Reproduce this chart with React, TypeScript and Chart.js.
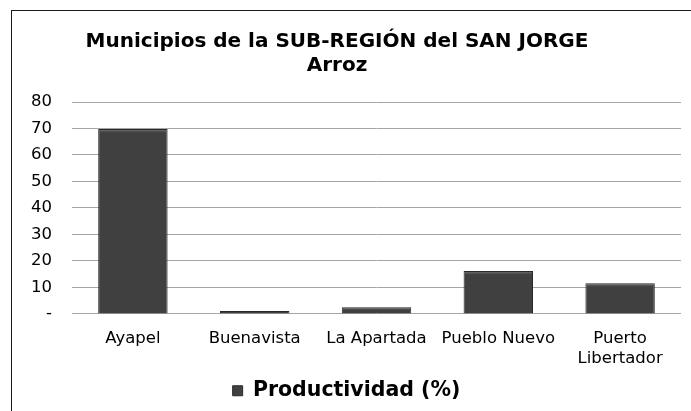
import React, { useEffect, useRef } from "react";
import { Chart, registerables } from "chart.js";

Chart.register(...registerables);

const titleLines = ["Municipios de la SUB-REGIÓN del SAN JORGE", "Arroz"];
const categories: (string | string[])[] = ["Ayapel", "Buenavista", "La Apartada", "Pueblo Nuevo", ["Puerto", "Libertador"]];
const seriesName = "Productividad (%)";
const productividad = [69.8, 1.1, 2.5, 16.2, 11.6];
const yMax = 80;
const yStep = 10;

const bevelPlugin = {
  id: "bevel",
  afterLayout(chart: any) {
    if (chart.titleBlock) chart.titleBlock.right -= 19;
  },
  afterDatasetsDraw(chart: any) {
    const ctx = chart.ctx;
    const meta = chart.getDatasetMeta(0);
    ctx.save();
    meta.data.forEach((bar: any) => {
      const w = bar.width;
      const left = bar.x - w / 2;
      const top = bar.y;
      const h = bar.base - bar.y;
      const band = Math.min(4, h / 2);
      const g = ctx.createLinearGradient(0, top, 0, top + band);
      g.addColorStop(0, "rgba(140,140,140,0.9)");
      g.addColorStop(1, "rgba(90,90,90,0.0)");
      ctx.fillStyle = g;
      ctx.fillRect(left + 1, top + 1, w - 2, band);
    });
    ctx.restore();
  },
};

export default function App() {
  const ref = useRef<HTMLCanvasElement | null>(null);
  useEffect(() => {
    if (!ref.current) return;
    const chart = new Chart(ref.current, {
      type: "bar",
      data: {
        labels: categories as any,
        datasets: [
          {
            label: seriesName,
            data: productividad,
            backgroundColor: "#404040",
            borderColor: "#2a2a2a",
            borderWidth: 1,
            categoryPercentage: 0.57,
            barPercentage: 1,
          },
        ],
      },
      options: {
        animation: false,
        responsive: false,
        layout: { padding: { left: 0, right: 10, top: 0, bottom: 0 } },
        plugins: {
          title: {
            display: true,
            text: titleLines,
            color: "#000",
            font: { family: "DejaVu Sans", size: 20, weight: "bold", lineHeight: 1.2 },
            padding: { top: 19, bottom: 24 },
          },
          legend: {
            display: true,
            position: "bottom",
            labels: {
              color: "#000",
              boxWidth: 10,
              boxHeight: 10,
              font: { family: "DejaVu Sans", size: 20.5, weight: "bold" },
              padding: 11,
            },
          },
          tooltip: { enabled: false },
        },
        scales: {
          x: {
            grid: { display: false, drawTicks: false },
            border: { display: false },
            afterFit: (s: any) => {
              s.height -= 14;
            },
            ticks: {
              color: "#000",
              font: { family: "DejaVu Sans", size: 16.5 },
              padding: 15,
              maxRotation: 0,
              autoSkip: false,
            },
          },
          y: {
            min: 0,
            max: yMax,
            grid: { color: "#a6a6a6", drawTicks: false, lineWidth: 1 },
            border: { display: false },
            afterFit: (s: any) => {
              s.width = 60;
            },
            ticks: {
              stepSize: yStep,
              color: "#000",
              font: { family: "DejaVu Sans", size: 16.5 },
              padding: 20,
              callback: (v: any) => (Number(v) === 0 ? "-" : String(v)),
            },
          },
        },
      },
      plugins: [bevelPlugin],
    });
    return () => chart.destroy();
  }, []);
  return (
    <div
      style={{
        position: "fixed",
        left: 11,
        top: 10,
        width: 680,
        height: 401,
        borderLeft: "1px solid #1a1a1a",
        borderTop: "1px solid #1a1a1a",
        background: "#fff",
        overflow: "hidden",
      }}
    >
      <canvas ref={ref} width={679} height={400} style={{ display: "block" }} />
    </div>
  );
}
